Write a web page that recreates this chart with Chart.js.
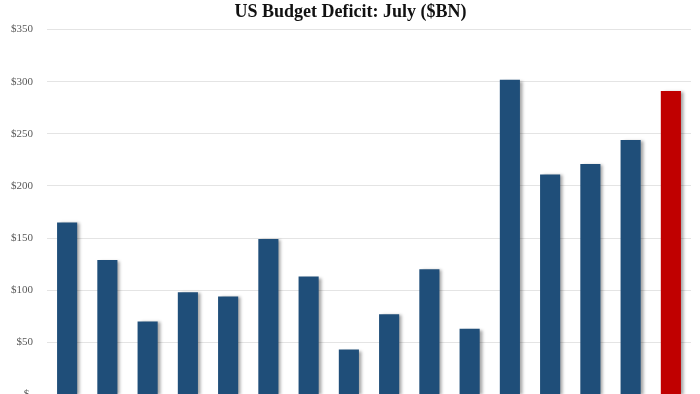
<!DOCTYPE html>
<html>
<head>
<meta charset="utf-8">
<script src="https://cdn.jsdelivr.net/npm/chart.js@4"></script>
<style>
  html, body { margin: 0; padding: 0; background: #fff; overflow: hidden; }
  #wrap { width: 700px; height: 415px; position: relative; }
</style>
</head>
<body>
<div id="wrap"><canvas id="myChart"></canvas></div>
<script>
const years = ["2010", "2011", "2012", "2013", "2014", "2015", "2016", "2017",
  "2018", "2019", "2020", "2021", "2022", "2023", "2024", "2025"];
const deficit = [165, 129, 70, 98, 94, 149, 113, 43, 77, 120, 63, 302, 211, 221, 244, 291];
const yTicks = [0, 50, 100, 150, 200, 250, 300, 350];

const blue = "#1f4e79";
const red = "#c00000";
const barColors = deficit.map((v, i) => (i == deficit.length - 1 ? red : blue));

// soft shadow on the right side of each bar
const barShadow = {
  id: "barShadow",
  beforeDatasetsDraw(chart) {
    const c = chart.ctx;
    c.save();
    c.shadowColor = "rgba(0,0,0,0.35)";
    c.shadowBlur = 3;
    c.shadowOffsetX = 3;
    c.shadowOffsetY = 1;
  },
  afterDatasetsDraw(chart) {
    chart.ctx.restore();
  }
};

const ctx = document.getElementById("myChart");
new Chart(ctx, {
  type: "bar",
  data: {
    labels: years,
    datasets: [
      {
        label: "Deficit",
        data: deficit,
        backgroundColor: barColors,
        borderWidth: 0,
        barPercentage: 0.5,
        categoryPercentage: 1,
      },
    ],
  },
  options: {
    responsive: true,
    maintainAspectRatio: false,
    animation: false,
    layout: { padding: { left: 10, right: 9, top: 0, bottom: 0 } },
    plugins: {
      legend: { display: false },
      tooltip: { enabled: false },
      title: {
        display: true,
        text: "US Budget Deficit: July ($BN)",
        color: "#111",
        font: { family: "'Liberation Serif', 'Times New Roman', serif", size: 18, weight: "bold" },
        padding: { top: 2, bottom: 6 },
      },
    },
    scales: {
      x: { display: false },
      y: {
        min: 0,
        max: 350,
        afterBuildTicks: (axis) => {
          axis.ticks = yTicks.map((v) => ({ value: v }));
        },
        afterFit: (axis) => {
          axis.width = 37;
        },
        border: { display: false },
        grid: { color: "#e4e4e4", drawTicks: false, lineWidth: 1 },
        ticks: {
          color: "#595959",
          padding: 14,
          font: { family: "'Liberation Serif', 'Times New Roman', serif", size: 11 },
          callback: (v) => (v == 0 ? "$-" : "$" + v),
        },
      },
    },
  },
  plugins: [barShadow],
});
</script>
</body>
</html>
